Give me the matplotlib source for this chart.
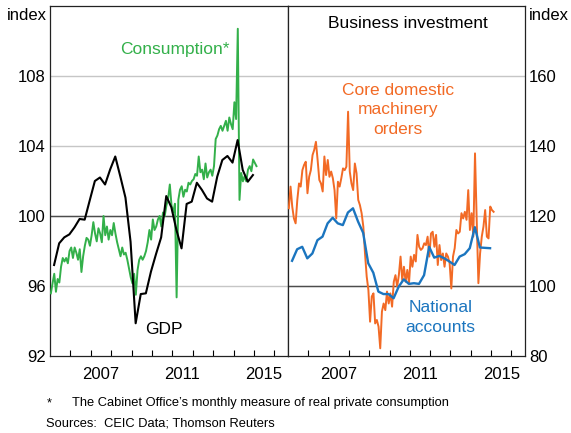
import numpy as np
import matplotlib.pyplot as plt

plt.rcParams['font.family'] = ['Liberation Sans', 'DejaVu Sans']

# monthly, Jan 2005 onwards (index)
consumption = [95.58, 96.15, 96.7, 95.67, 96.4, 96.2, 97.1, 97.6, 97.4, 97.6, 97.3, 98.0,
               98.2, 97.6, 98.2, 97.9, 97.5, 98.1, 96.8, 97.7, 98.3, 98.75, 98.65, 98.3,
               98.9, 99.65, 99.0, 98.55, 99.3, 99.0, 98.5, 100.0, 98.9, 99.4, 98.65, 99.2,
               98.9, 99.6, 99.0, 98.5, 98.1, 97.7, 98.2, 97.8, 97.9, 97.5, 97.0, 96.5,
               96.15, 96.7, 95.5, 96.9, 97.5, 97.7, 97.5, 97.7, 98.0, 98.5, 99.2, 98.65,
               99.8, 99.2, 99.4, 99.8, 100.0, 99.4, 100.2, 100.0, 100.6, 101.0, 101.8, 100.6,
               100.2, 100.7, 95.35, 100.92, 101.5, 101.7, 101.1, 101.5, 101.4, 101.9, 101.8, 102.0,
               102.1, 102.4, 102.3, 103.4, 102.5, 102.65, 102.1, 103.0, 102.2, 102.5, 102.65, 102.3,
               102.85, 104.4, 104.6, 104.96, 105.15, 104.87, 105.15, 105.44, 104.87, 105.63, 105.25, 104.96,
               106.5, 105.54, 110.7, 100.92, 102.46, 101.98, 102.27, 101.98, 102.65, 102.85, 102.56, 103.23,
               103.04, 102.85]

# quarterly, 2005 Q1 onwards
gdp = [97.2, 98.44, 98.78, 98.95, 99.35, 99.83, 99.79, 100.9,
       102.0, 102.2, 101.8, 102.66, 103.4, 102.25, 101.05, 98.53,
       93.87, 95.54, 95.58, 96.82, 97.83, 98.78, 101.14, 100.5,
       99.2, 98.15, 100.69, 100.82, 101.9, 101.49, 101.0, 100.82,
       102.25, 103.2, 103.43, 103.05, 104.34, 102.63, 101.96, 102.34]

# monthly, Jan 2005 onwards
machinery_orders = [122.2, 128.4, 122.7, 119.3, 117.9, 124.6, 129.3, 128.4, 133.1, 134.6, 135.5, 126.5,
                    131.2, 133.1, 137.4, 138.9, 141.2, 136.0, 130.3, 129.3, 127.0, 137.0, 131.7, 136.0,
                    131.2, 132.7, 130.8, 127.4, 119.3, 129.8, 128.4, 130.8, 133.6, 133.1, 134.1, 149.8,
                    132.7, 129.3, 127.4, 135.0, 132.2, 124.6, 123.1, 120.8, 117.0, 109.3, 102.7, 98.9,
                    89.8, 97.0, 97.9, 89.3, 90.3, 88.4, 82.2, 92.7, 95.0, 93.1, 98.4, 95.0,
                    97.9, 94.1, 101.2, 103.1, 99.8, 103.1,
                    108.4, 101.7, 105.5, 101.2, 104.6, 100.8, 108.4, 105.5, 108.9, 107.0, 114.6, 111.2,
                    110.3, 110.8, 112.2, 111.7, 114.1, 108.4, 115.0, 115.5, 111.2, 114.6, 106.0, 111.7,
                    107.4, 109.3, 105.5, 109.3, 108.4, 106.5, 99.3, 108.4, 110.8, 116.0, 115.0, 115.5,
                    120.8, 119.3, 121.2, 118.9, 127.4, 116.0, 120.8, 114.1, 137.9, 118.9, 100.8, 109.3,
                    114.1, 117.0, 121.7, 114.1, 113.6, 122.7, 121.7, 121.2]

# quarterly, 2005 Q1 onwards
national_accounts = [107.2, 110.5, 111.2, 107.9, 109.3, 113.1, 114.1, 117.9,
                     119.5, 117.9, 117.4, 121.0, 122.2, 118.4, 115.2, 106.5,
                     103.8, 98.4, 97.7, 97.7, 96.5, 99.8, 101.9, 100.6,
                     100.8, 100.6, 103.1, 111.2, 108.1, 108.6, 107.9, 107.0,
                     106.0, 108.4, 109.1, 110.8, 116.8, 111.0, 110.9, 110.8]

year_labels = ['2007', '2011', '2015']
left_ticks = [92, 96, 100, 104, 108]
right_ticks = [80, 100, 120, 140, 160]

months = 2005 + (np.arange(len(consumption)) + 0.5) / 12
months2 = 2005 + (np.arange(len(machinery_orders)) + 0.5) / 12
quarters = 2005.2 + 0.25 * np.arange(len(gdp))

GREEN = '#33b04a'
ORANGE = '#f26a25'
BLUE = '#1b75bf'

W, H = 571, 433
fig = plt.figure(figsize=(W / 100, H / 100), dpi=100)
ax1 = fig.add_axes([50 / W, 77 / H, 238 / W, 350 / H])
ax2 = fig.add_axes([288 / W, 77 / H, 237 / W, 350 / H])


def style(ax, ticks, side):
    ax.set_xlim(2005, 2016.67)
    ax.set_yticks(ticks)
    for t in ticks[1:]:
        ax.axhline(t, color='#c6c6c6', lw=1, zorder=0)
    ax.axhline(100, color='#4d4d4d', lw=1, zorder=1)
    ax.set_xticks([2007.5, 2011.5, 2015.5])
    ax.set_xticklabels(year_labels)
    ax.set_xticks(range(2006, 2017), minor=True)
    ax.tick_params(axis='x', which='major', length=0, pad=8, labelsize=12)
    ax.tick_params(axis='x', which='minor', direction='in', length=4, width=0.8)
    ax.tick_params(axis='y', length=0, labelsize=12, pad=3,
                   left=False, right=False,
                   labelleft=(side == 'left'), labelright=(side == 'right'))
    for s in ax.spines.values():
        s.set_linewidth(0.9)
        s.set_color('#222222')


ax1.set_ylim(92, 112)
style(ax1, left_ticks, 'left')
ax1.plot(months, consumption, color=GREEN, lw=1.4, zorder=3)
ax1.plot(quarters, gdp, color='black', lw=1.5, zorder=4)
ax1.text(2011.1, 109.5, 'Consumption*', color=GREEN, fontsize=12.5, ha='center', va='center')
ax1.text(2010.6, 93.5, 'GDP', color='black', fontsize=12.5, ha='center', va='center')

ax2.set_ylim(80, 180)
style(ax2, right_ticks, 'right')
ax2.plot(months2, machinery_orders, color=ORANGE, lw=1.4, zorder=3)
ax2.plot(quarters, national_accounts, color=BLUE, lw=1.7, zorder=4)
ax2.text(2010.9, 175.1, 'Business investment', fontsize=12.5, ha='center', va='center')
ax2.text(2010.42, 150.3, 'Core domestic\nmachinery\norders', color=ORANGE, fontsize=12.5,
         ha='center', va='center', linespacing=1.4)
ax2.text(2012.5, 90.9, 'National\naccounts', color=BLUE, fontsize=12.5,
         ha='center', va='center', linespacing=1.4)

fig.text(47 / W, 1 - 15 / H, 'index', fontsize=12, ha='right', va='center')
fig.text(529 / W, 1 - 15 / H, 'index', fontsize=12, ha='left', va='center')

fig.text(47 / W, 1 - 403 / H, '*', fontsize=9.3, ha='left', va='center')
fig.text(72 / W, 1 - 403 / H, 'The Cabinet Office\u2019s monthly measure of real private consumption',
         fontsize=9.3, ha='left', va='center')
fig.text(46 / W, 1 - 424 / H, 'Sources:  CEIC Data; Thomson Reuters', fontsize=9.3,
         ha='left', va='center')

fig.savefig('out.png', dpi=100)
